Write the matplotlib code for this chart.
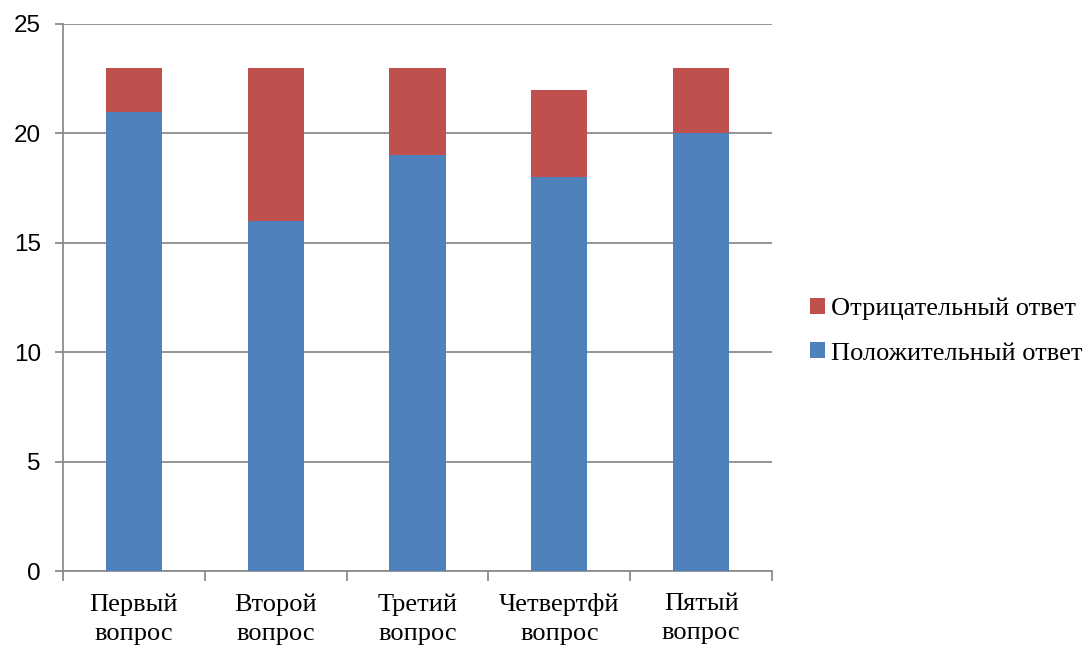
import matplotlib
matplotlib.use("Agg")
import matplotlib.pyplot as plt
import numpy as np

categories = ["Первый\nвопрос", "Второй\nвопрос", "Третий\nвопрос", "Четвертфй\nвопрос", "Пятый\nвопрос"]
positive = [21, 16, 19, 18, 20]
negative = [2, 7, 4, 4, 3]
labels = ["Положительный ответ", "Отрицательный ответ"]

blue = "#4F81BD"
red = "#C0504D"
gray = "#8C8C8C"

fig = plt.figure(figsize=(10.9, 6.48), dpi=100)
ax = fig.add_axes([63/1090, 1-571/648, (772-63)/1090, (571-24)/648])

x = np.arange(len(categories))
w = 0.395
b1 = ax.bar(x, positive, width=w, color=blue, label=labels[0], zorder=3)
b2 = ax.bar(x, negative, width=w, bottom=positive, color=red, label=labels[1], zorder=3)

ax.set_xlim(-0.5, len(categories) - 0.5)
ax.set_ylim(0, 25)
ax.set_yticks([0, 5, 10, 15, 20, 25])
ax.yaxis.grid(True, color=gray, linewidth=1.3, zorder=0)
ax.set_axisbelow(True)

for s in ["top", "right"]:
    ax.spines[s].set_visible(False)
for s in ["left", "bottom"]:
    ax.spines[s].set_color(gray)
    ax.spines[s].set_linewidth(1.3)

ax.tick_params(axis="y", length=6, width=1.3, color=gray, labelsize=17.5, pad=10)
for t in ax.get_yticklabels():
    t.set_family("Liberation Sans")

ax.set_xticks(np.arange(len(categories) + 1) - 0.5, minor=False)
ax.set_xticklabels([""] * (len(categories) + 1))
ax.tick_params(axis="x", which="major", length=7, width=1.3, color=gray)
ax.set_xticks(x, minor=True)
ax.set_xticklabels(categories, minor=True, family="Liberation Serif", fontsize=19, linespacing=1.4)
ax.tick_params(axis="x", which="minor", length=0, pad=16)

handles = [b2, b1]
leg = fig.legend(handles, [labels[1], labels[0]], loc="center left",
                 bbox_to_anchor=(810/1090, 1-331/648), frameon=False,
                 prop={"family": "Liberation Serif", "size": 19},
                 handlelength=0.55, handleheight=0.55, handletextpad=0.25,
                 labelspacing=0.85, borderaxespad=0, borderpad=0)

fig.savefig("out.png", dpi=100)
